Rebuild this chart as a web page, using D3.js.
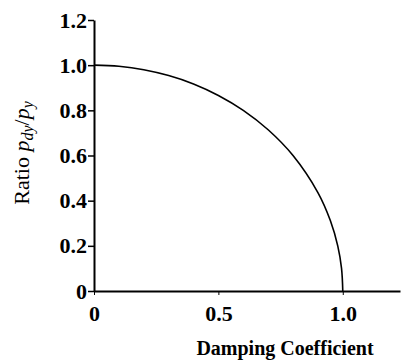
<!DOCTYPE html>
<html>
<head>
<meta charset="utf-8">
<script src="https://cdn.jsdelivr.net/npm/d3@7"></script>
<style>
  body { margin: 0; background: #fff; }
  svg text { font-family: "Liberation Serif", "Times New Roman", serif; fill: #000; }
</style>
</head>
<body>
<div id="chart"></div>
<script>
// damping coefficient vs ratio p_dy/p_y
const damping = [0, 0.1, 0.2, 0.3, 0.4, 0.5, 0.6, 0.7, 0.8, 0.9, 0.95, 0.98, 0.995, 1.0];
const ratio = [1.0, 0.995, 0.98, 0.954, 0.917, 0.866, 0.80, 0.714, 0.60, 0.436, 0.312, 0.199, 0.10, 0];
const xTicks = [0, 0.5, 1.0];
const xTickLabels = ["0", "0.5", "1.0"];
const yTicks = [0, 0.2, 0.4, 0.6, 0.8, 1.0, 1.2];
const yTickLabels = ["0", "0.2", "0.4", "0.6", "0.8", "1.0", "1.2"];

const width = 401, height = 363;
const margin = { left: 94, right: 1, top: 20, bottom: 72 };

const svg = d3.select("#chart").append("svg")
    .attr("width", width)
    .attr("height", height);

const x = d3.scaleLinear()
    .domain([0, 1.23])
    .range([margin.left, width - margin.right]);
const y = d3.scaleLinear()
    .domain([0, 1.2])
    .range([height - margin.bottom, margin.top]);

// x axis
const xAxis = svg.append("g")
    .attr("transform", `translate(0,${y(0)})`)
    .call(d3.axisBottom(x).tickValues(xTicks)
        .tickFormat((d, i) => xTickLabels[i])
        .tickSize(4).tickPadding(10).tickSizeOuter(0));
xAxis.select(".domain").attr("stroke-width", 2);
xAxis.selectAll("text").attr("font-size", 22).attr("font-weight", "bold").attr("fill", "#000");

// y axis
const yAxis = svg.append("g")
    .attr("transform", `translate(${x(0)},0)`)
    .call(d3.axisLeft(y).tickValues(yTicks)
        .tickFormat((d, i) => yTickLabels[i])
        .tickSize(6).tickPadding(1).tickSizeOuter(0));
yAxis.select(".domain").attr("stroke-width", 2);
yAxis.selectAll("line").attr("stroke-width", 1.5);
yAxis.selectAll("text").attr("font-size", 22).attr("font-weight", "bold").attr("fill", "#000");

// curve
const pts = damping.map((d, i) => [d, ratio[i]]);
svg.append("path")
    .datum(pts)
    .attr("fill", "none")
    .attr("stroke", "#000")
    .attr("stroke-width", 1.6)
    .attr("d", d3.line()
        .x(d => x(d[0]))
        .y(d => y(d[1]))
        .curve(d3.curveCatmullRom.alpha(0.5)));

// axis titles
svg.append("text")
    .attr("x", 285)
    .attr("y", 355)
    .attr("text-anchor", "middle")
    .attr("font-size", 20)
    .attr("font-weight", "bold")
    .text("Damping Coefficient");

const yl = svg.append("text")
    .attr("transform", "translate(29,153) rotate(-90)")
    .attr("text-anchor", "middle")
    .attr("font-size", 22);
yl.append("tspan").text("Ratio ");
yl.append("tspan").attr("font-style", "italic").text("p");
yl.append("tspan").attr("font-style", "italic").attr("font-size", 16).attr("dy", 4).text("dy");
yl.append("tspan").attr("dy", -4).text("/");
yl.append("tspan").attr("font-style", "italic").text("p");
yl.append("tspan").attr("font-style", "italic").attr("font-size", 16).attr("dy", 4).text("y");
</script>
</body>
</html>
